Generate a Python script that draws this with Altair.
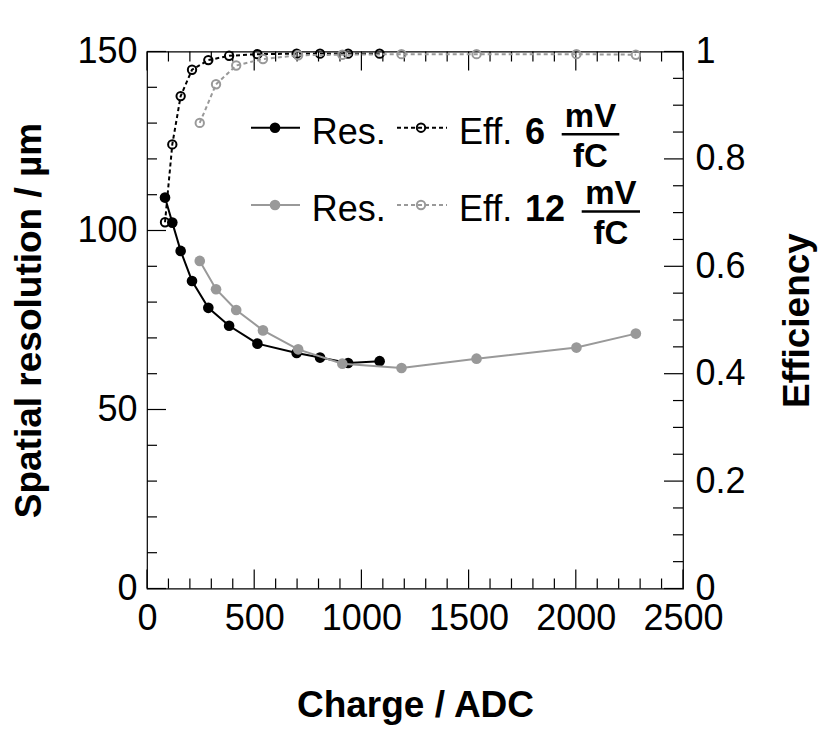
import altair as alt
import pandas as pd

# ---- data ----
charge6 = [84, 118, 157, 210, 286, 383, 515, 698, 807, 938, 1085]
res6 = [109.2, 102.2, 94.3, 85.9, 78.4, 73.4, 68.4, 65.8, 64.5, 63.0, 63.5]
eff6 = [0.682, 0.827, 0.917, 0.966, 0.984, 0.992, 0.995, 0.996, 0.996, 0.996, 0.996]

charge12 = [246, 322, 416, 541, 705, 911, 1187, 1537, 2003, 2280]
res12 = [91.5, 83.6, 77.8, 72.1, 66.8, 62.8, 61.6, 64.2, 67.3, 71.2]
eff12 = [0.867, 0.939, 0.974, 0.986, 0.993, 0.994, 0.995, 0.995, 0.995, 0.994]

x_major = [0, 500, 1000, 1500, 2000, 2500]
x_minor = [100, 200, 300, 400, 600, 700, 800, 900, 1100, 1200, 1300, 1400,
           1600, 1700, 1800, 1900, 2100, 2200, 2300, 2400]
res_major = [0, 50, 100, 150]
res_minor = [10, 20, 30, 40, 60, 70, 80, 90, 110, 120, 130, 140]
eff_major = [0, 0.2, 0.4, 0.6, 0.8, 1.0]
eff_minor = [0.05, 0.1, 0.15, 0.25, 0.3, 0.35, 0.45, 0.5, 0.55,
             0.65, 0.7, 0.75, 0.85, 0.9, 0.95]

W, H = 536, 537
FONT = "Liberation Sans"
BLACK = "#000000"
GRAY = "#999999"
MAJ, MIN = 19, 10
LBL = 36
TTL = 37

d6 = pd.DataFrame({"charge": charge6, "res": res6, "eff": eff6})
d12 = pd.DataFrame({"charge": charge12, "res": res12, "eff": eff12})

xs = alt.Scale(domain=[0, 2500], nice=False, zero=False)
ys_res = alt.Scale(domain=[0, 150], nice=False, zero=False)
ys_eff = alt.Scale(domain=[0, 1], nice=False, zero=False)

x_axis = alt.Axis(values=x_major, format="d", ticks=False, tickSize=0, domain=False,
                  grid=False, labelFont=FONT, labelFontSize=LBL, labelPadding=13,
                  labelColor="black", labelFlush=False, labelOverlap=False,
                  title="Charge / ADC", titleFont=FONT, titleFontSize=TTL,
                  titleFontWeight="bold", titleColor="black",
                  titleX=W / 2, titleY=128, titleAlign="center", titleBaseline="alphabetic")
res_axis = alt.Axis(orient="left", values=res_major, format="d", ticks=False, tickSize=0,
                    domain=False, grid=False, labelFont=FONT, labelFontSize=LBL,
                    labelPadding=10, labelColor="black", labelFlush=False,
                    labelOverlap=False,
                    title="Spatial resolution / µm", titleFont=FONT, titleFontSize=TTL,
                    titleFontWeight="bold", titleColor="black", titleAngle=270,
                    titleX=-107, titleY=H / 2, titleAlign="center",
                    titleBaseline="alphabetic")
eff_axis = alt.Axis(orient="right", values=eff_major, format="~g", ticks=False, tickSize=0,
                    domain=False, grid=False, labelFont=FONT, labelFontSize=LBL,
                    labelPadding=12, labelColor="black", labelFlush=False,
                    labelOverlap=False,
                    title="Efficiency", titleFont=FONT, titleFontSize=TTL,
                    titleFontWeight="bold", titleColor="black", titleAngle=270,
                    titleX=125, titleY=H / 2, titleAlign="center",
                    titleBaseline="alphabetic")

X = lambda f: alt.X(f, scale=xs, axis=x_axis)
YR = lambda f: alt.Y(f, scale=ys_res, axis=res_axis)
YE = lambda f: alt.Y(f, scale=ys_eff, axis=eff_axis)


def res_layers(df, color):
    base = alt.Chart(df)
    line = base.mark_line(color=color, strokeWidth=2).encode(x=X("charge:Q"), y=YR("res:Q"))
    pts = base.mark_point(filled=True, color=color, size=113, opacity=1).encode(
        x=X("charge:Q"), y=YR("res:Q"))
    return [line, pts]


def eff_layers(df, color):
    base = alt.Chart(df)
    line = base.mark_line(color=color, strokeWidth=2, strokeDash=[4, 3]).encode(
        x=X("charge:Q"), y=YE("eff:Q"))
    pts = base.mark_point(filled=False, color=color, size=70, strokeWidth=2,
                          opacity=1).encode(x=X("charge:Q"), y=YE("eff:Q"))
    return [line, pts]


def xticks(vals, length):
    df = pd.DataFrame({"v": vals})
    bot = alt.Chart(df).mark_rule(color="black", strokeWidth=1.2).encode(
        x=X("v:Q"), y=alt.value(H - length), y2=alt.value(H))
    top = alt.Chart(df).mark_rule(color="black", strokeWidth=1.2).encode(
        x=X("v:Q"), y=alt.value(0), y2=alt.value(length))
    return [bot, top]


def yticks(vals, Yf, length, side):
    df = pd.DataFrame({"v": vals})
    if side == "left":
        x0, x1 = 0, length
    else:
        x0, x1 = W - length, W
    return [alt.Chart(df).mark_rule(color="black", strokeWidth=1.2).encode(
        y=Yf("v:Q"), x=alt.value(x0), x2=alt.value(x1))]


one = pd.DataFrame({"k": [0]})


def hrule(x0, x1, y, color, dash=None, width=2):
    kw = dict(color=color, strokeWidth=width)
    if dash:
        kw["strokeDash"] = dash
    return alt.Chart(one).mark_rule(**kw).encode(
        x=alt.value(x0), x2=alt.value(x1), y=alt.value(y))


def dot(x, y, color, filled):
    if filled:
        m = alt.Chart(one).mark_point(filled=True, color=color, size=113, opacity=1)
    else:
        m = alt.Chart(one).mark_point(filled=False, color=color, size=70,
                                      strokeWidth=2, opacity=1)
    return m.encode(x=alt.value(x), y=alt.value(y))


def txt(s, x, y, size=36, bold=False, align="left"):
    return alt.Chart(one).mark_text(
        text=s, font=FONT, fontSize=size, fontWeight="bold" if bold else "normal",
        align=align, baseline="alphabetic", color="black").encode(
        x=alt.value(x), y=alt.value(y))


def legend_row(dy, color, num, frac_cx, frac_x0, frac_x1):
    yl = 76.2 + dy
    yt = 92.5 + dy
    return [
        hrule(104, 153, yl, color),
        dot(128, yl, color, True),
        txt("Res.", 164.7, yt),
        hrule(250, 300, yl, color, dash=[4, 3]),
        dot(274, yl, color, False),
        txt("Eff.", 312, yt),
        txt(num, 378, yt, bold=True),
        txt("mV", frac_cx, 75.5 + dy, size=33, bold=True, align="center"),
        hrule(frac_x0, frac_x1, 82.8 + dy, "black", width=2.5),
        txt("fC", frac_cx, 115.4 + dy, size=33, bold=True, align="center"),
    ]


left_group = alt.layer(
    *res_layers(d6, BLACK),
    *res_layers(d12, GRAY),
    *xticks(x_major, MAJ),
    *xticks(x_minor, MIN),
    *yticks(res_major, YR, MAJ, "left"),
    *yticks(res_minor, YR, MIN, "left"),
    *legend_row(0, BLACK, "6", 443.5, 414.7, 472.3),
    *legend_row(77.3, GRAY, "12", 463.9, 434.7, 493.0),
)

right_group = alt.layer(
    *eff_layers(d6, BLACK),
    *eff_layers(d12, GRAY),
    *yticks(eff_major, YE, MAJ, "right"),
    *yticks(eff_minor, YE, MIN, "right"),
)

chart = alt.layer(left_group, right_group).resolve_scale(y="independent").properties(
    width=W, height=H,
    autosize=alt.AutoSizeParams(type="none"),
    padding={"left": 139, "top": 43.5, "right": 138, "bottom": 137},
    background="white",
).configure_view(stroke="black", strokeWidth=1.2)

chart.save("out.html", embed_options={"renderer": "svg", "actions": False})
